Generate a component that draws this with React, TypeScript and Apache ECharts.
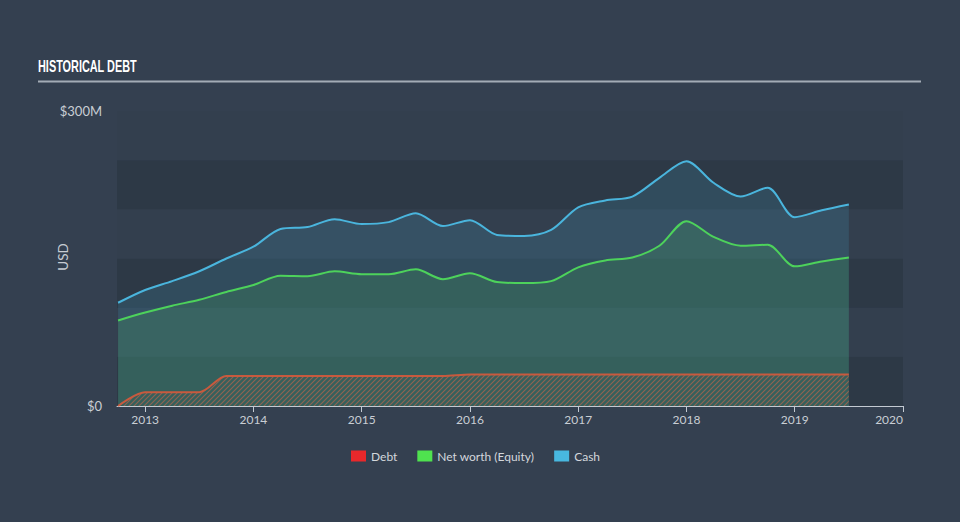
import React, { useEffect, useRef } from 'react';
import * as echarts from 'echarts';

// Decimal years (quarter ends)
const periods = [
  2012.75, 2013.0, 2013.25, 2013.5, 2013.75, 2014.0, 2014.25, 2014.5, 2014.75,
  2015.0, 2015.25, 2015.5, 2015.75, 2016.0, 2016.25, 2016.5, 2016.75,
  2017.0, 2017.25, 2017.5, 2017.75, 2018.0, 2018.25, 2018.5, 2018.75,
  2019.0, 2019.25, 2019.5,
];
// USD millions
const cash = [
  105, 118, 127, 137, 150, 162, 180, 182, 190,
  185, 187, 196, 183, 189, 174, 173, 179,
  202, 209, 213, 232, 249, 227, 213, 222,
  192, 199, 205,
];
const equity = [
  87, 95, 102, 108, 116, 123, 132.5, 132, 137,
  134, 134, 139, 129, 135, 126, 125, 127,
  141, 148, 151, 163, 188, 172, 163, 164,
  142, 147, 151,
];
const debt = [
  0, 14, 14, 14, 30.5, 30.5, 30.5, 30.5, 30.5,
  30.5, 30.5, 30.5, 30.5, 32, 32, 32, 32,
  32, 32, 32, 32, 32, 32, 32, 32,
  32, 32, 32,
];
const xTicks = [2013, 2014, 2015, 2016, 2017, 2018, 2019, 2020];
const yLabelValues = [0, 300];

const seriesNames = ['Debt', 'Net worth (Equity)', 'Cash'];
const legendColors = ['#e8282b', '#4fe24f', '#48b8e0'];

export default function App() {
  const ref = useRef<HTMLDivElement>(null);
  useEffect(() => {
    if (!ref.current) return;
    const chart = echarts.init(ref.current, null, { renderer: 'svg' });

    const canvas = document.createElement('canvas');
    canvas.width = 5;
    canvas.height = 5;
    const ctx = canvas.getContext('2d');
    if (ctx) {
      ctx.strokeStyle = 'rgba(205,100,75,0.6)';
      ctx.lineWidth = 1.1;
      ctx.beginPath();
      ctx.moveTo(-1, 6);
      ctx.lineTo(6, -1);
      ctx.moveTo(-1, 1);
      ctx.lineTo(1, -1);
      ctx.moveTo(4, 6);
      ctx.lineTo(6, 4);
      ctx.stroke();
    }

    const font = 'Lato, "Open Sans", sans-serif';
    const pairs = (vals: number[]) => periods.map((p, i) => [p, vals[i]]);

    chart.setOption({
      animation: false,
      backgroundColor: '#344050',
      grid: { left: 117, right: 57, top: 111, bottom: 116 },
      graphic: [
        {
          type: 'text',
          x: 38,
          y: 58,
          scaleX: 0.64,
          scaleY: 1,
          originX: 0,
          originY: 0,
          style: {
            text: 'HISTORICAL DEBT',
            fill: '#ffffff',
            font: 'bold 17px "Liberation Sans", Arial, sans-serif',
            verticalAlign: 'top',
          },
        },
        {
          type: 'line',
          shape: { x1: 38, y1: 81.5, x2: 921, y2: 81.5 },
          style: { stroke: '#a3acb6', lineWidth: 2 },
        },
        {
          type: 'text',
          x: 63,
          y: 257,
          rotation: Math.PI / 2,
          style: {
            text: 'USD',
            fill: '#c6ccd3',
            font: '13.5px ' + font,
            align: 'center',
            verticalAlign: 'middle',
          },
        },
      ],
      legend: {
        left: 351,
        top: 450,
        padding: 0,
        itemWidth: 15,
        itemHeight: 11,
        itemGap: 20,
        icon: 'rect',
        textStyle: { color: '#d3d7dc', fontSize: 12, fontFamily: font },
        data: seriesNames.map((n, i) => ({ name: n, itemStyle: { color: legendColors[i] } })),
      },
      xAxis: {
        type: 'value',
        min: 2012.74,
        max: 2020,
        axisLine: { show: true, lineStyle: { color: '#c3cad2', width: 1 } },
        axisTick: { show: true, length: 6, customValues: xTicks, lineStyle: { color: '#c3cad2' } },
        axisLabel: {
          customValues: xTicks,
          color: '#c9ced4',
          fontSize: 12,
          fontFamily: font,
          margin: 7,
          alignMaxLabel: 'right',
          formatter: (v: number) => String(Math.round(v)),
        },
        splitLine: { show: false },
      },
      yAxis: {
        type: 'value',
        min: 0,
        max: 300,
        interval: 50,
        axisLine: { show: false },
        axisTick: { show: false },
        splitLine: { show: false },
        splitArea: {
          show: true,
          areaStyle: { color: ['#2d3946', '#333f4e'] },
        },
        axisLabel: {
          color: '#c9ced4',
          fontSize: 13,
          fontFamily: font,
          margin: 15,
          padding: [0, 0, 5, 0],
          formatter: (v: number) =>
            yLabelValues.includes(v) ? (v === 0 ? '$0' : '$' + v + 'M') : '',
        },
      },
      series: [
        {
          name: 'Cash',
          type: 'line',
          data: pairs(cash),
          smooth: 0.3,
          symbol: 'none',
          itemStyle: { color: '#48b8e0' },
          lineStyle: { color: '#4ab5dd', width: 2 },
          areaStyle: { color: 'rgba(74,181,221,0.22)', origin: 'start' },
        },
        {
          name: 'Net worth (Equity)',
          type: 'line',
          data: pairs(equity),
          smooth: 0.3,
          symbol: 'none',
          itemStyle: { color: '#4fe24f' },
          lineStyle: { color: '#4dd25b', width: 2 },
          areaStyle: { color: 'rgba(77,210,91,0.22)', origin: 'start' },
        },
        {
          name: 'Debt',
          type: 'line',
          data: pairs(debt),
          smooth: 0.3,
          symbol: 'none',
          itemStyle: { color: '#e8282b' },
          lineStyle: { color: '#c85a3e', width: 2 },
          areaStyle: {
            color: { image: canvas, repeat: 'repeat' },
            opacity: 1,
            origin: 'start',
          },
        },
      ],
    });
    return () => chart.dispose();
  }, []);
  return (
    <div
      ref={ref}
      style={{ position: 'fixed', left: 0, top: 0, width: 960, height: 522 }}
    />
  );
}
